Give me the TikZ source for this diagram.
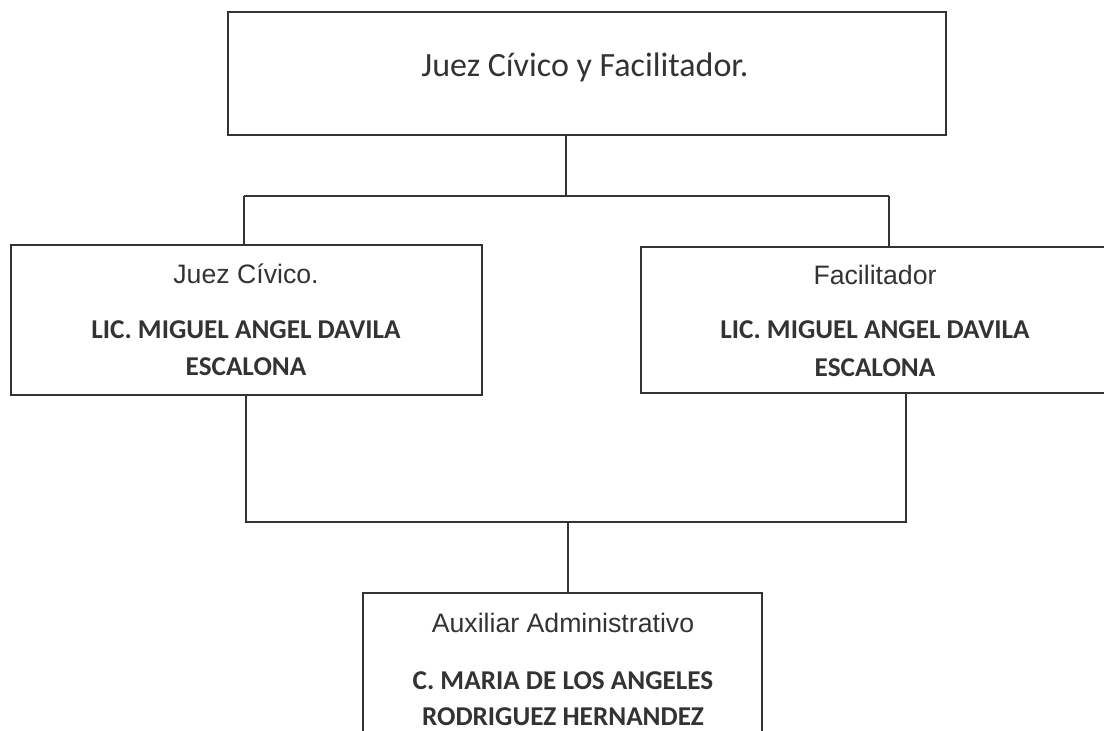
\documentclass[tikz,border=0pt]{standalone}
\usepackage{fontspec}
\setmainfont{Carlito}
\newfontfamily\arialfont{Liberation Sans}
\definecolor{ink}{HTML}{333333}
\begin{document}
\begin{tikzpicture}[x=0.75pt,y=-0.75pt]
		\tikzset{box/.style = {shape=rectangle, draw=ink, line width=1.8pt, inner sep=0pt},
			conn/.style = {draw=ink, line width=0.9pt},
			titletext/.style = {anchor=base, text=ink, inner sep=0pt, font=\fontsize{25.5}{30}\selectfont},
			roletext/.style = {anchor=base, text=ink, inner sep=0pt, font=\arialfont\fontsize{20}{24}\selectfont},
			nametext/.style = {anchor=base, text=ink, inner sep=0pt, font=\bfseries\fontsize{20.4}{24}\selectfont}}

		\useasboundingbox (0,0) rectangle (1104,731);
		\clip (0,0) rectangle (1104,731);

		\node[box, minimum width=538.5pt, minimum height=92.25pt] (top) at (587,73.5) {};
		\node[box, minimum width=353.25pt, minimum height=112.5pt] (juez) at (246.5,320) {};
		\node[box, minimum width=351pt, minimum height=109.5pt] (facil) at (875,320) {};
		\node[box, minimum width=299.25pt, minimum height=129pt] (aux) at (562.5,679) {};

		\node[titletext] (top_t) at (585,77) {Juez Cívico y Facilitador.};

		\node[roletext] (juez_t) at (246,284) {Juez Cívico.};
		\node[nametext] (juez_n1) at (246,338) {LIC. MIGUEL ANGEL DAVILA};
		\node[nametext] (juez_n2) at (246,375) {ESCALONA};

		\node[roletext] (facil_t) at (875,285) {Facilitador};
		\node[nametext] (facil_n1) at (875,339) {LIC. MIGUEL ANGEL DAVILA};
		\node[nametext] (facil_n2) at (875,376) {ESCALONA};

		\node[roletext] (aux_t) at (563,632) {Auxiliar Administrativo};
		\node[nametext] (aux_n1) at (563,689) {C. MARIA DE LOS ANGELES};
		\node[nametext] (aux_n2) at (563,725) {RODRIGUEZ HERNANDEZ};

		\coordinate (split_t) at (566,196);
		\coordinate (split_tl) at (244,196);
		\coordinate (split_tr) at (889,196);
		\coordinate (join_bl) at (246,522);
		\coordinate (join_br) at (906,522);
		\coordinate (join_bm) at (568,522);

		\draw[conn] (split_t |- top.south)--(split_t);
		\draw[conn] (split_tl)--(split_tr);
		\draw[conn] (split_tl)--(split_tl |- juez.north);
		\draw[conn] (split_tr)--(split_tr |- facil.north);

		\draw[conn] (join_bl |- juez.south)--(join_bl)--(join_br)--(join_br |- facil.south);
		\draw[conn] (join_bm)--(join_bm |- aux.north);

	\end{tikzpicture}
\end{document}
